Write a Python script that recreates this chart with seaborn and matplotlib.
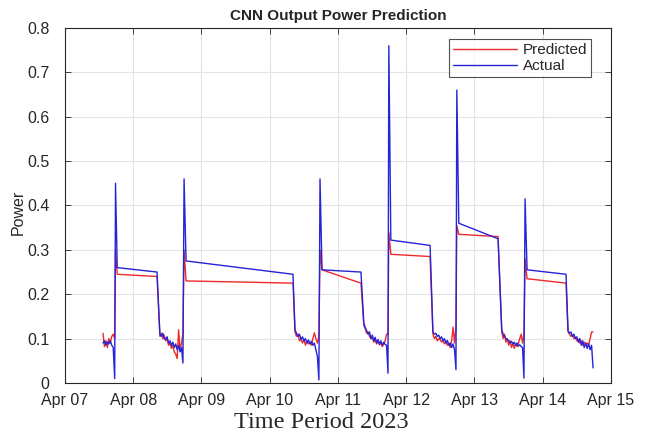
import numpy as np
import pandas as pd
import matplotlib
matplotlib.use('Agg')
import matplotlib.pyplot as plt
import matplotlib.dates as mdates
import seaborn as sns

# hours are counted from Apr 07 2023 00:00
start = pd.Timestamp('2023-04-07')

# noisy low-power stretches (start hour, actual, predicted)
noise_start_hours = [13.4, 33.4, 80.9, 105.1, 129.4, 153.6, 176.9]
noise_a_actual = [0.09, 0.095, 0.085, 0.093, 0.088, 0.095, 0.085, 0.08]
noise_a_pred = [0.112, 0.082, 0.095, 0.08, 0.1, 0.09, 0.105, 0.11]
noise_b_actual = [0.11, 0.105, 0.112, 0.1, 0.098, 0.104, 0.09, 0.095, 0.085, 0.092, 0.08, 0.088, 0.075, 0.085, 0.07, 0.08]
noise_b_pred = [0.105, 0.112, 0.1, 0.108, 0.095, 0.1, 0.085, 0.09, 0.078, 0.085, 0.07, 0.065, 0.055, 0.12, 0.075, 0.09]
noise_c_actual = [0.12, 0.112, 0.105, 0.11, 0.098, 0.104, 0.095, 0.1, 0.09, 0.097, 0.088, 0.094, 0.085, 0.09, 0.075, 0.06]
noise_c_pred = [0.115, 0.105, 0.11, 0.095, 0.1, 0.09, 0.098, 0.085, 0.095, 0.088, 0.092, 0.085, 0.1, 0.113, 0.1, 0.09]
noise_d_actual = [0.135, 0.125, 0.118, 0.11, 0.115, 0.1, 0.108, 0.095, 0.103, 0.09, 0.098, 0.088, 0.095, 0.085, 0.092, 0.087, 0.085]
noise_d_pred = [0.13, 0.122, 0.112, 0.115, 0.105, 0.1, 0.102, 0.092, 0.098, 0.088, 0.094, 0.086, 0.09, 0.082, 0.088, 0.095, 0.11]
noise_e_actual = [0.115, 0.11, 0.112, 0.105, 0.108, 0.1, 0.104, 0.095, 0.1, 0.09, 0.096, 0.085, 0.09, 0.08, 0.088, 0.075]
noise_e_pred = [0.11, 0.1, 0.105, 0.095, 0.1, 0.098, 0.092, 0.097, 0.088, 0.093, 0.085, 0.09, 0.08, 0.095, 0.126, 0.09]
noise_f_actual = [0.12, 0.11, 0.105, 0.1, 0.098, 0.095, 0.09, 0.094, 0.088, 0.092, 0.085, 0.09, 0.083, 0.086, 0.082, 0.08]
noise_f_pred = [0.115, 0.1, 0.11, 0.092, 0.1, 0.085, 0.095, 0.08, 0.09, 0.078, 0.088, 0.082, 0.09, 0.1, 0.11, 0.09]
noise_g_actual = [0.118, 0.112, 0.115, 0.105, 0.11, 0.1, 0.104, 0.092, 0.1, 0.085, 0.095, 0.08, 0.09, 0.078, 0.088, 0.075, 0.085]
noise_g_pred = [0.115, 0.11, 0.105, 0.108, 0.1, 0.103, 0.095, 0.098, 0.09, 0.095, 0.085, 0.092, 0.088, 0.09, 0.085, 0.1, 0.115]

# dip right before each spike
dip_hours = [17.5, 41.5, 89.3, 113.6, 137.5, 161.4, 185.7]
dip_actual = [0.01, 0.045, 0.007, 0.022, 0.03, 0.011, 0.034]
dip_pred = [0.10, 0.11, 0.105, 0.11, 0.125, 0.11, 0.115]

# spikes
spike_hours = [17.8, 41.9, 89.7, 113.9, 137.8, 161.8]
spike_actual = [0.45, 0.46, 0.46, 0.76, 0.66, 0.415]
spike_pred = [0.30, 0.30, 0.30, 0.34, 0.355, 0.28]

# long flat stretches after the spikes
plat_start_hours = [18.4, 42.6, 90.4, 114.6, 138.5, 162.5]
plat_start_actual = [0.26, 0.275, 0.255, 0.322, 0.36, 0.255]
plat_start_pred = [0.245, 0.23, 0.255, 0.29, 0.335, 0.235]
plat_end_hours = [32.4, 80.2, 104.1, 128.4, 152.3, 176.2]
plat_end_actual = [0.25, 0.245, 0.25, 0.31, 0.325, 0.245]
plat_end_pred = [0.24, 0.225, 0.225, 0.285, 0.33, 0.225]

noise_actual = [noise_a_actual, noise_b_actual, noise_c_actual, noise_d_actual,
                noise_e_actual, noise_f_actual, noise_g_actual]
noise_pred = [noise_a_pred, noise_b_pred, noise_c_pred, noise_d_pred,
              noise_e_pred, noise_f_pred, noise_g_pred]

hours, actual, pred = [], [], []
for i in range(len(noise_start_hours)):
    n = len(noise_actual[i])
    step = (dip_hours[i] - noise_start_hours[i]) / n
    for k in range(n):
        hours.append(noise_start_hours[i] + k * step)
        actual.append(noise_actual[i][k])
        pred.append(noise_pred[i][k])
    hours.append(dip_hours[i]); actual.append(dip_actual[i]); pred.append(dip_pred[i])
    if i < len(spike_hours):
        hours += [spike_hours[i], plat_start_hours[i], plat_end_hours[i]]
        actual += [spike_actual[i], plat_start_actual[i], plat_end_actual[i]]
        pred += [spike_pred[i], plat_start_pred[i], plat_end_pred[i]]

times = start + pd.to_timedelta(hours, unit='h')
df = pd.concat([
    pd.DataFrame({'time': times, 'power': pred, 'series': 'Predicted'}),
    pd.DataFrame({'time': times, 'power': actual, 'series': 'Actual'}),
])

sns.set_style('whitegrid')
plt.rcParams['font.family'] = ['Liberation Sans', 'DejaVu Sans']

fig = plt.figure(figsize=(6.49, 4.36), dpi=100)
ax = fig.add_axes([0.100, 0.1216, 0.8414, 0.8142])

sns.lineplot(data=df, x='time', y='power', hue='series', estimator=None, sort=False,
             palette={'Predicted': '#ee2a2a', 'Actual': '#2424d8'}, linewidth=1.0, ax=ax)

ax.set_xlim(pd.Timestamp('2023-04-07'), pd.Timestamp('2023-04-15'))
ax.set_ylim(0, 0.8)
ax.set_yticks(np.arange(0, 0.81, 0.1))
ax.set_yticklabels(['0', '0.1', '0.2', '0.3', '0.4', '0.5', '0.6', '0.7', '0.8'])
ax.xaxis.set_major_locator(mdates.DayLocator())
ax.xaxis.set_major_formatter(mdates.DateFormatter('%b %d'))

ax.grid(True, color='#e3e3e3', linewidth=0.8)
for s in ax.spines.values():
    s.set_color('#262626')
    s.set_linewidth(0.8)
ax.tick_params(direction='in', length=4, width=0.6, color='#262626', labelsize=11.5,
               labelcolor='#262626', top=True, right=True, bottom=True, left=True)
ax.tick_params(axis='x', pad=7)
ax.tick_params(axis='y', pad=11)

ax.set_title('CNN Output Power Prediction', fontsize=11, fontweight='bold', pad=6)
ax.set_ylabel('Power', fontsize=11.5)
ax.yaxis.set_label_coords(-0.072, 0.48)
ax.set_xlabel('Time Period 2023', fontsize=17.5, family='Liberation Serif')
ax.xaxis.set_label_coords(0.469, -0.083)

leg = ax.legend(loc='upper right', fontsize=11, frameon=True, fancybox=False,
                borderpad=0.25, handlelength=4.2, labelspacing=0.15, handletextpad=0.4,
                bbox_to_anchor=(0.978, 0.99))
leg.get_frame().set_edgecolor('#262626')
leg.get_frame().set_linewidth(0.8)

fig.savefig('out.png', dpi=100)
